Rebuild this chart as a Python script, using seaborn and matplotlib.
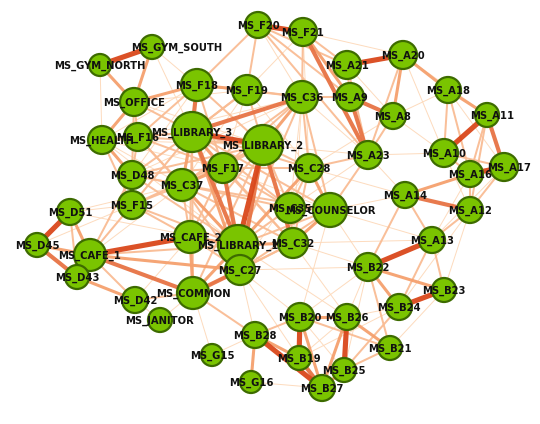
import matplotlib
matplotlib.use("Agg")
import matplotlib.pyplot as plt
import seaborn as sns
import pandas as pd
import numpy as np
from matplotlib.colors import LinearSegmentedColormap

sns.set_theme(style="white")
plt.rcParams['font.family'] = ['DejaVu Sans']

nodes = ["GYM_SOUTH","GYM_NORTH","OFFICE","F18","HEALTH","F16","LIBRARY_3","D48","F19","C36",
         "LIBRARY_2","F17","C37","C28","C35","COUNSELOR","CAFE_2","LIBRARY_1","C32","C27",
         "COMMON","F15","A9","A21","A20","A8","A18","A11","A23","A10","A16","A17","A14",
         "F21","F20","A12","A13","D51","D45","CAFE_1","D43","D42","JANITOR","B22","B23",
         "B24","B20","B26","B28","B21","G15","B19","B25","G16","B27"]
node_x = [152,100,134,197,102,138,192,132,247,302,263,223,182,309,290,330,190,238,293,240,
          193,132,350,347,403,393,448,487,368,444,470,504,405,303,258,470,432,70,37,90,77,
          135,160,368,444,399,300,347,255,390,212,299,344,251,322]
node_y = [47,65,102,85,140,137,132,175,90,97,145,168,185,168,208,210,237,245,243,270,
          293,205,97,65,55,116,90,115,155,153,174,167,195,32,25,210,240,212,245,255,277,
          300,320,267,290,307,317,317,335,348,355,358,370,382,388]
node_r = [12,11,14,16,14,14,20,14,15,16,20,15,16,14,15,17,16,20,15,15,16,14,14,14,14,13,
          13,12,14,14,13,14,13,14,13,13,13,13,12,16,12,13,12,14,12,13,14,13,13,12,11,12,12,11,13]
label_dx = {"GYM_SOUTH": 25, "B27": 0, "A11": 5, "A17": 5}

edges = [
 ("GYM_NORTH","GYM_SOUTH",5),("GYM_SOUTH","OFFICE",3),("GYM_NORTH","OFFICE",3),("GYM_NORTH","HEALTH",1),
 ("GYM_SOUTH","F18",1),("GYM_SOUTH","LIBRARY_3",1),("OFFICE","F18",3),("OFFICE","HEALTH",3),("OFFICE","LIBRARY_3",2),
 ("OFFICE","F16",2),("OFFICE","D48",2),("OFFICE","F19",1),("OFFICE","LIBRARY_2",1),
 ("LIBRARY_3","LIBRARY_2",5),("LIBRARY_3","C36",4),("F18","F19",3),("F18","LIBRARY_3",4),("F18","LIBRARY_2",2),
 ("F18","C36",2),("F18","F17",2),("F18","C37",1),("F18","F20",2),("F19","C36",2),("F19","LIBRARY_3",2),
 ("F19","F20",2),("F19","F21",1),("LIBRARY_3","LIBRARY_1",4),("LIBRARY_2","LIBRARY_1",5),("LIBRARY_2","C36",3),
 ("LIBRARY_3","F17",3),("LIBRARY_3","C37",3),("LIBRARY_3","F16",2),("LIBRARY_3","HEALTH",2),("LIBRARY_3","D48",2),
 ("LIBRARY_3","F15",2),("LIBRARY_3","CAFE_2",2),("LIBRARY_3","C28",2),("LIBRARY_3","C35",2),("LIBRARY_3","COUNSELOR",2),
 ("LIBRARY_3","C32",2),("LIBRARY_3","C27",3),("LIBRARY_3","COMMON",2),("LIBRARY_3","CAFE_1",1),("LIBRARY_3","F19",2),
 ("LIBRARY_2","F17",2),("LIBRARY_2","C37",2),("LIBRARY_2","C28",2),("LIBRARY_2","C35",2),("LIBRARY_2","C32",4),
 ("LIBRARY_2","C27",4),("LIBRARY_2","CAFE_2",2),("LIBRARY_2","COMMON",2),("LIBRARY_2","D48",2),("LIBRARY_2","F16",2),
 ("LIBRARY_2","HEALTH",1),("LIBRARY_2","F15",2),("LIBRARY_2","F19",2),("LIBRARY_2","A23",1),
 ("C36","C28",2),("C36","COUNSELOR",2),("C36","C35",1),("C36","C37",2),("C36","F17",2),("C36","LIBRARY_1",2),
 ("C36","A9",2),("C36","A23",1),("C36","F21",2),("C36","F20",1),("C36","C32",1),("C36","D48",1),("C36","F16",1),
 ("F20","F21",5),("F21","A23",4),("F21","A9",3),("F21","A21",2),("F21","A20",1),("F20","A9",2),("F20","A23",2),
 ("F20","A21",2),("F21","C28",1),
 ("A21","A20",5),("A21","A9",2),("A21","A23",2),("A21","A8",1),("A9","A8",4),("A9","A23",4),("A20","A8",3),
 ("A20","A18",3),("A20","A23",2),("A20","A10",1),("A20","A11",1),("A8","A23",2),("A8","A18",1),("A8","A10",1),
 ("A8","C28",1),("A18","A11",3),("A18","A10",2),("A18","A16",2),("A18","A17",1),("A11","A10",5),("A11","A17",4),
 ("A11","A16",2),("A11","A12",2),("A10","A16",2),("A10","A17",2),("A10","A23",1),("A10","A12",1),("A16","A17",5),
 ("A14","A16",3),("A14","A12",4),("A14","A13",2),("A12","A13",2),("A12","A16",2),("A12","A17",2),("A13","A17",1),
 ("A13","A16",1),("A23","C28",2),("A23","COUNSELOR",2),("A23","C35",1),("A23","A14",1),("A14","COUNSELOR",1),
 ("A13","B22",5),("A14","B22",2),("A13","B24",2),("A13","B23",2),("A12","B23",1),("A12","B24",1),
 ("B22","B24",3),("B22","B23",3),("B24","B23",5),("B22","B21",2),("B22","B26",1),("B22","B20",1),("B24","B25",2),
 ("B24","B26",1),("B23","B21",1),("B24","B19",1),("B22","B25",1),
 ("B20","B19",5),("B26","B25",5),("B28","B27",5),("B28","B19",3),("B20","B26",3),("B19","B27",4),("B25","B27",3),
 ("B21","B25",2),("B26","B21",3),("B20","B21",2),("B28","G16",3),("G15","B28",1),("G16","B27",1),("B20","B28",2),
 ("B20","B27",3),("B26","B27",3),("B20","B25",1),("B26","B19",1),("B20","C27",1),("B28","COMMON",2),("B28","C27",1),
 ("G15","COMMON",1),("B20","COUNSELOR",1),("B26","C32",1),("B19","C27",1),
 ("CAFE_1","CAFE_2",5),("CAFE_1","D45",3),("D51","D45",5),("D45","D43",4),("CAFE_1","D51",3),("CAFE_1","D43",3),
 ("CAFE_1","COMMON",4),("CAFE_1","C27",3),("D43","D42",3),("CAFE_1","D42",2),("D51","D43",2),("D51","F15",1),
 ("D51","LIBRARY_1",1),("D51","C37",1),("D45","F15",1),("CAFE_1","F15",2),("CAFE_1","D48",2),("CAFE_1","LIBRARY_1",2),
 ("CAFE_1","C37",1),("D42","COMMON",2),("D42","JANITOR",1),("JANITOR","COMMON",1),("D42","CAFE_2",1),
 ("CAFE_2","LIBRARY_1",3),("CAFE_2","COMMON",3),("CAFE_2","C37",2),("CAFE_2","F17",2),("CAFE_2","C27",2),
 ("COMMON","C27",4),("COMMON","LIBRARY_1",3),("COMMON","C32",2),("LIBRARY_1","C27",3),("C32","C27",2),
 ("C35","COUNSELOR",2),("C32","COUNSELOR",3),("C28","LIBRARY_1",3),("F17","LIBRARY_1",4),("C37","F17",3),
 ("C37","LIBRARY_1",3),("C37","C27",2),("C37","C32",2),("C37","COUNSELOR",2),("C37","C35",2),("C37","D48",2),
 ("HEALTH","D48",3),("D48","F15",3),("HEALTH","F16",2),("F16","D48",2),("F16","F17",2),("F16","C37",2),
 ("F16","LIBRARY_1",2),("D48","LIBRARY_1",2),("D48","C37",2),("D48","F17",2),("F15","C37",2),("F15","LIBRARY_1",2),
 ("F15","CAFE_2",2),("HEALTH","C37",1),("HEALTH","F17",1),("HEALTH","LIBRARY_1",1),("HEALTH","F15",2),
 ("F17","C28",2),("F17","C35",2),("F17","C32",2),("F17","COUNSELOR",1),("F17","C27",2),("C28","COUNSELOR",3),
 ("C28","C35",2),("C28","C32",2),("C35","LIBRARY_1",2),("COUNSELOR","LIBRARY_1",2),("C32","LIBRARY_1",3),
 ("C35","C32",2),("COUNSELOR","C27",2),("C28","C27",1),("COUNSELOR","B22",1),("C32","B22",1),("C28","A14",1),
 ("F18","D48",1),("F18","F16",2),("F19","F17",1),("F19","C28",1),("F19","C37",1),("F18","HEALTH",1),
 ("COUNSELOR","A13",1),("C32","A13",1),("C27","B22",1),("LIBRARY_1","B26",1),
]

df = pd.DataFrame({"name": nodes, "x": node_x, "y": node_y, "r": node_r})
pos = {n: (x, y) for n, x, y in zip(nodes, node_x, node_y)}

fig = plt.figure(figsize=(5.4, 4.24), dpi=100)
ax = fig.add_axes([0, 0, 1, 1])
ax.set_xlim(0, 540)
ax.set_ylim(424, 0)
ax.axis("off")

cmap = LinearSegmentedColormap.from_list("e", ["#fdd9ba", "#f5a06e", "#d9471b"])
for a, b, w in sorted(edges, key=lambda e: e[2]):
    (x1, y1), (x2, y2) = pos[a], pos[b]
    ax.plot([x1, x2], [y1, y2], color=cmap((w - 1) / 4), lw=0.7 + 0.75 * (w - 1), alpha=0.95,
            solid_capstyle="butt", zorder=1)

sizes = [(2 * r * 0.72) ** 2 for r in node_r]
sns.scatterplot(data=df, x="x", y="y", s=sizes, color="#7ac400", edgecolor="#3d6b00",
                linewidth=1.6, ax=ax, zorder=3, legend=False)
ax.set_xlim(0, 540)
ax.set_ylim(424, 0)
ax.axis("off")

for n, x, y in zip(nodes, node_x, node_y):
    ax.text(x + label_dx.get(n, 0), y + 1, "MS_" + n, ha="center", va="center", fontsize=7.2,
            fontweight="bold", color="#111111", zorder=4)

fig.savefig("out.png", dpi=100)
